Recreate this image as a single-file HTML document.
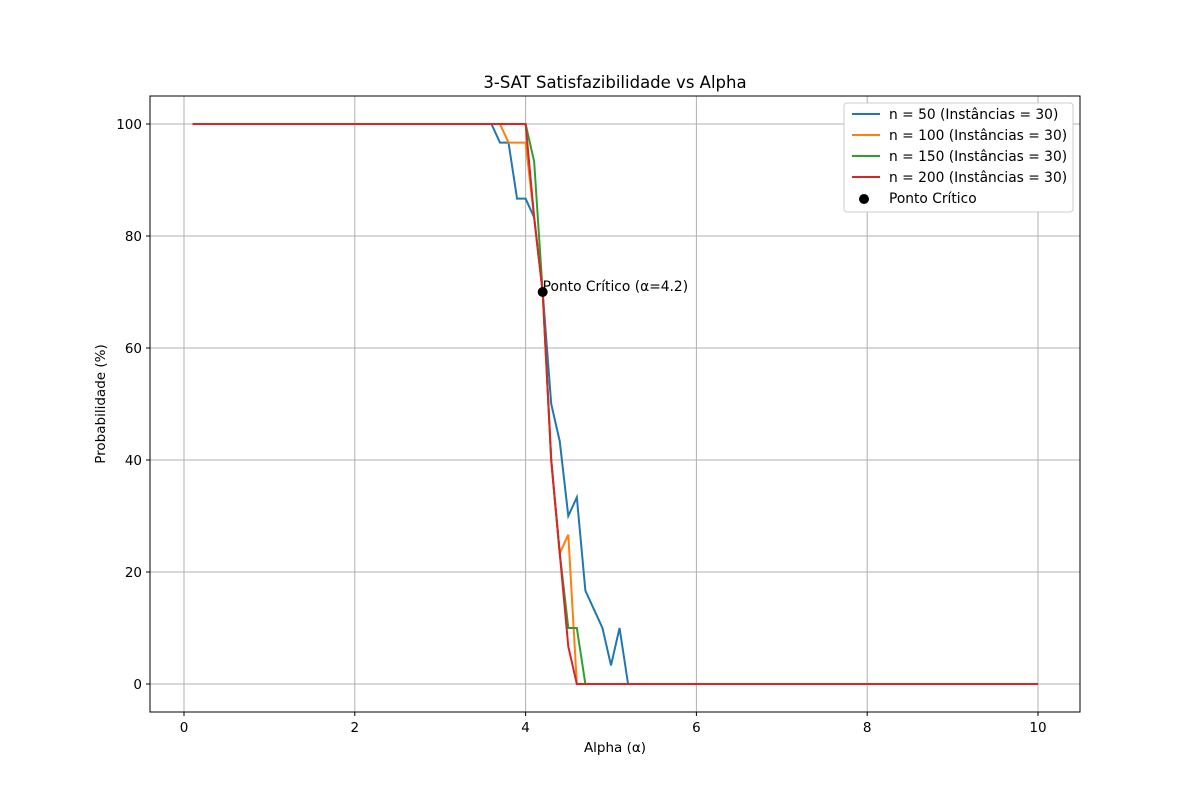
<!DOCTYPE html>
<html><head><meta charset="utf-8"><style>
body{margin:0;background:#fff;}
svg text{font-family:"DejaVu Sans","Liberation Sans",sans-serif;}
</style></head><body>
<svg id="chart" width="1200" height="800" xmlns="http://www.w3.org/2000/svg">
<rect width="1200" height="800" fill="#fff"/>
<text x="615" y="88" font-size="16.5" text-anchor="middle">3-SAT Satisfazibilidade vs Alpha</text>
<g id="grid"></g>
<g id="series"></g>
<rect x="150" y="96" width="930" height="616" fill="none" stroke="#000" stroke-width="1"/>
<g id="ticks"></g>
<text x="615" y="752" font-size="13.5" text-anchor="middle">Alpha (α)</text>
<text x="105" y="404" font-size="13.5" text-anchor="middle" transform="rotate(-90 105 404)">Probabilidade (%)</text>
<g id="legend"></g>
</svg>
<script>
const alphas=[];for(let i=1;i<=100;i++)alphas.push(+(i/10).toFixed(1));
const xTicks=[0,2,4,6,8,10];
const yTicks=[0,20,40,60,80,100];
const seriesNames=["n = 50 (Instâncias = 30)","n = 100 (Instâncias = 30)","n = 150 (Instâncias = 30)","n = 200 (Instâncias = 30)"];
const colors=["#1f77b4","#ff7f0e","#2ca02c","#d62728"];
// transition values from alpha 3.6 to 5.2 (step 0.1); 100 before, 0 after
const n50=[100,96.67,96.67,86.67,86.67,83.33,70,50,43.33,30,33.33,16.67,13.33,10,3.33,10,0];
const n100=[100,100,96.67,96.67,96.67,83.33,70,40,23.33,26.67,0,0,0,0,0,0,0];
const n150=[100,100,100,100,100,93.33,70,40,23.33,10,10,0,0,0,0,0,0];
const n200=[100,100,100,100,100,83.33,70,40,23.33,6.67,0,0,0,0,0,0,0];
const critX=[4.2], critY=[70];
const NS="http://www.w3.org/2000/svg";
const X=v=>184+(v-0)*85.4, Y=v=>684-v*5.6;
function full(tr){return alphas.map(a=>{const k=Math.round(a*10)-36;if(k<0)return 100;if(k>=tr.length)return 0;return tr[k];});}
function mk(t,attrs,parent){const e=document.createElementNS(NS,t);for(const k in attrs)e.setAttribute(k,attrs[k]);parent.appendChild(e);return e;}
const grid=document.getElementById('grid'),ticks=document.getElementById('ticks');
xTicks.forEach(t=>{
 const l=mk('line',{x1:X(t),x2:X(t),y1:96,y2:712,stroke:'#b0b0b0','stroke-width':1},grid);
 
 
 mk('line',{x1:X(t),x2:X(t),y1:712,y2:716,stroke:'#000'},ticks);
 const tx=mk('text',{x:X(t),y:732,'font-size':13.5,'text-anchor':'middle'},ticks);tx.textContent=t;
 
 
});
yTicks.forEach(t=>{
 const l=mk('line',{x1:150,x2:1080,y1:Y(t),y2:Y(t),stroke:'#b0b0b0','stroke-width':1},grid);
 
 
 mk('line',{x1:146,x2:150,y1:Y(t),y2:Y(t),stroke:'#000'},ticks);
 const tx=mk('text',{x:142,y:Y(t)+5,'font-size':13.5,'text-anchor':'end'},ticks);tx.textContent=t;
 
 
});
const sg=document.getElementById('series');
[n50,n100,n150,n200].forEach((tr,i)=>{
 const v=full(tr);
 const p=mk('polyline',{points:alphas.map((a,j)=>X(a)+','+Y(v[j])).join(' '),fill:'none',stroke:colors[i],'stroke-width':2},sg);
 
 
});
const c=mk('circle',{cx:X(critX[0]),cy:Y(critY[0]),r:5,fill:'#000'},sg);


const ct=mk('text',{x:X(critX[0]),y:Y(critY[0])-1,'font-size':13.8},sg);ct.textContent='Ponto Crítico (α='+critX[0]+')';


const lg=document.getElementById('legend');
mk('rect',{x:844,y:103,width:229,height:109,rx:3,fill:'#fff',stroke:'#ccc'},lg);
seriesNames.forEach((n,i)=>{
 const y=114+i*21;
 mk('line',{x1:852,x2:880,y1:y,y2:y,stroke:colors[i],'stroke-width':2},lg);
 const t=mk('text',{x:889,y:y+5,'font-size':13.8},lg);t.textContent=n;
 
 
});
mk('circle',{cx:864,cy:199,r:5,fill:'#000'},lg);
const lt=mk('text',{x:889,y:203,'font-size':13.8},lg);lt.textContent='Ponto Crítico';


</script>
</body></html>
